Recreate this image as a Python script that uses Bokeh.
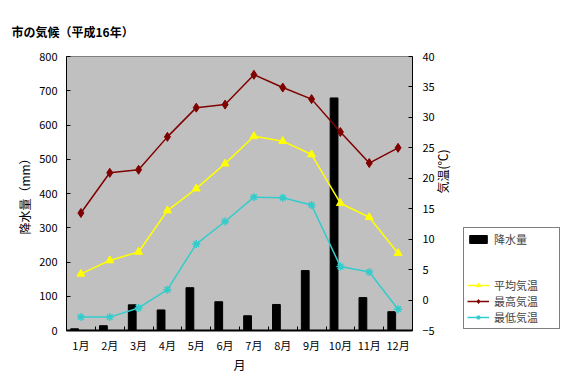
import math
from bokeh.plotting import figure
from bokeh.layouts import row
from bokeh.models import (Range1d, LinearAxis, FixedTicker, Legend, LegendItem,
                          ColumnDataSource)
from bokeh.transform import dodge
from bokeh.embed import file_html
from bokeh.resources import INLINE

months = [1, 2, 3, 4, 5, 6, 7, 8, 9, 10, 11, 12]
month_labels = ["1月", "2月", "3月", "4月", "5月", "6月", "7月", "8月", "9月", "10月", "11月", "12月"]
precip = [5, 14, 75, 60, 125, 84, 43, 76, 175, 679, 96, 55]
t_avg = [4.3, 6.5, 7.9, 14.7, 18.3, 22.4, 26.9, 26.1, 23.9, 15.9, 13.6, 7.7]
t_max = [14.3, 20.9, 21.4, 26.8, 31.6, 32.1, 37.0, 34.9, 33.0, 27.6, 22.5, 25.0]
t_min = [-2.8, -2.8, -1.3, 1.7, 9.2, 12.9, 16.9, 16.8, 15.6, 5.5, 4.6, -1.5]
precip_ticks = [0, 100, 200, 300, 400, 500, 600, 700, 800]
temp_ticks = [-5, 0, 5, 10, 15, 20, 25, 30, 35, 40]

FONT = "Noto Sans CJK JP"
C_AVG, C_MAX, C_MIN = "#FFFF00", "#800000", "#33CCCC"

src = ColumnDataSource(dict(m=months, precip=precip, t_avg=t_avg, t_max=t_max, t_min=t_min))

p = figure(width=462, height=392, x_range=Range1d(0.5, 12.5), y_range=Range1d(0, 800),
           output_backend="svg", toolbar_location=None,
           title="市の気候（平成16年）",
           min_border_left=66, min_border_right=46, min_border_top=56, min_border_bottom=62)
p.extra_y_ranges = {"temp": Range1d(-5, 40)}
p.background_fill_color = "#C0C0C0"
p.border_fill_color = "white"
p.outline_line_color = "#808080"
p.xgrid.visible = False
p.ygrid.visible = False

p.title.align = "left"
p.title.offset = -55
p.title.standoff = 33
p.title.text_font = FONT
p.title.text_font_size = "12px"
p.title.text_font_style = "bold"
p.title.text_color = "black"

xa = p.xaxis[0]
xa.ticker = FixedTicker(ticks=months, minor_ticks=[0.5 + i for i in range(13)])
xa.major_label_overrides = {m: l for m, l in zip(months, month_labels)}
xa.major_tick_in = 0
xa.major_tick_out = 0
xa.minor_tick_in = 4
xa.minor_tick_out = 0
xa.minor_tick_line_color = "black"
xa.axis_line_color = "black"
xa.axis_line_width = 2
xa.major_label_standoff = 6
xa.axis_label = "月"
xa.axis_label_standoff = 0

ya = p.yaxis[0]
ya.ticker = FixedTicker(ticks=precip_ticks)
ya.major_tick_in = 4
ya.major_tick_out = 0
ya.minor_tick_line_color = None
ya.axis_line_color = "black"
ya.axis_line_width = 1
ya.major_label_standoff = 9
ya.axis_label = "降水量（mm）"
ya.axis_label_standoff = 3

ra = LinearAxis(y_range_name="temp", ticker=FixedTicker(ticks=temp_ticks))
ra.major_tick_in = 4
ra.major_tick_out = 0
ra.minor_tick_line_color = None
ra.axis_line_color = "black"
ra.major_label_standoff = 10
ra.axis_label = "気温(℃)"
ra.axis_label_standoff = 5
if "axis_label_orientation" in ra.properties():
    ra.axis_label_orientation = math.pi / 2
p.add_layout(ra, "right")

for ax in [xa, ya, ra]:
    ax.major_label_text_font = FONT
    ax.major_label_text_font_size = "11px"
    ax.major_label_text_color = "black"
    ax.axis_label_text_font = FONT
    ax.axis_label_text_font_size = "12px"
    ax.axis_label_text_font_style = "normal"
    ax.axis_label_text_color = "black"

p.vbar(x=dodge("m", -0.22, range=p.x_range), top="precip", width=0.27, bottom=0,
       source=src, fill_color="black", line_color="black")
p.line("m", "t_avg", source=src, y_range_name="temp", line_color=C_AVG, line_width=1.5)
p.scatter("m", "t_avg", source=src, y_range_name="temp", marker="triangle", size=8,
          fill_color=C_AVG, line_color=C_AVG)
p.line("m", "t_max", source=src, y_range_name="temp", line_color=C_MAX, line_width=1.5)
p.scatter("m", "t_max", source=src, y_range_name="temp", marker="diamond", size=9,
          fill_color=C_MAX, line_color=C_MAX)
p.line("m", "t_min", source=src, y_range_name="temp", line_color=C_MIN, line_width=1.5)
p.scatter("m", "t_min", source=src, y_range_name="temp", marker="asterisk", size=8,
          line_color=C_MIN, line_width=1.5)

# legend figure to the right of the chart
q = figure(width=105, height=392, x_range=Range1d(0, 1), y_range=Range1d(0, 1),
           output_backend="svg", toolbar_location=None,
           x_axis_location=None, y_axis_location=None,
           min_border_left=0, min_border_right=0, min_border_top=0, min_border_bottom=0)
q.outline_line_color = None
q.background_fill_color = "white"
q.border_fill_color = "white"
q.xgrid.visible = False
q.ygrid.visible = False

hx, hy = [5, 6], [5, 5]
g_bar = q.vbar(x=hx, top=hy, width=0.5, fill_color="black", line_color="black")
g_blank = q.scatter(x=hx, y=hy, marker="circle", size=1, fill_alpha=0, line_alpha=0)
g_avg_l = q.line(x=hx, y=hy, line_color=C_AVG, line_width=1.5)
g_avg_s = q.scatter(x=hx, y=hy, marker="triangle", size=8, fill_color=C_AVG, line_color=C_AVG)
g_max_l = q.line(x=hx, y=hy, line_color=C_MAX, line_width=1.5)
g_max_s = q.scatter(x=hx, y=hy, marker="diamond", size=9, fill_color=C_MAX, line_color=C_MAX)
g_min_l = q.line(x=hx, y=hy, line_color=C_MIN, line_width=1.5)
g_min_s = q.scatter(x=hx, y=hy, marker="asterisk", size=8, line_color=C_MIN, line_width=1.5)

legend = Legend(items=[
    LegendItem(label="降水量", renderers=[g_bar]),
    LegendItem(label=" ", renderers=[g_blank]),
    LegendItem(label="  ", renderers=[g_blank]),
    LegendItem(label="平均気温", renderers=[g_avg_l, g_avg_s]),
    LegendItem(label="最高気温", renderers=[g_max_l, g_max_s]),
    LegendItem(label="最低気温", renderers=[g_min_l, g_min_s]),
], location=(1, 1))
legend.label_text_font = FONT
legend.label_text_font_size = "11px"
legend.label_height = 15
legend.label_width = 62
legend.glyph_height = 10
legend.glyph_width = 22
legend.spacing = 0
legend.padding = 3
legend.margin = 0
legend.label_standoff = 5
legend.border_line_color = "black"
legend.border_line_width = 1
legend.background_fill_color = "white"
legend.background_fill_alpha = 1
q.add_layout(legend)

layout = row(p, q)
open("out.html", "w").write(file_html(layout, INLINE))
